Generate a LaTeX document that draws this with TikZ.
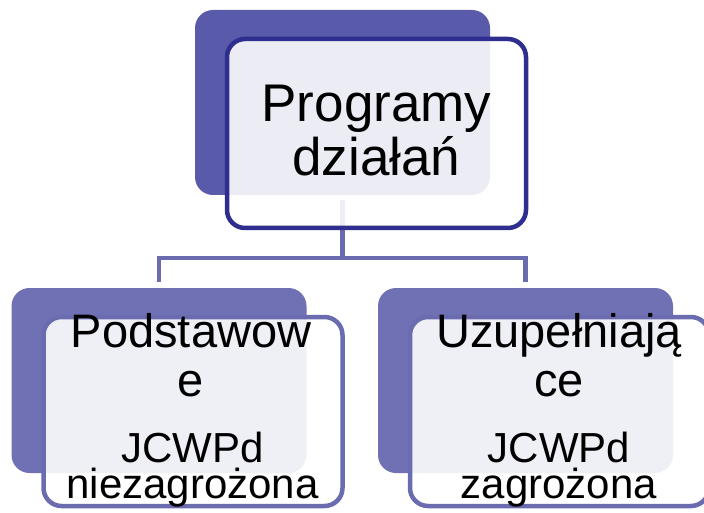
\documentclass[tikz,border=0pt]{standalone}
\usepackage{fontspec}
\setmainfont{Liberation Sans}
\usepackage{tikz}
\usepackage{xcolor}
\usetikzlibrary{positioning}

\definecolor{mainfill}{HTML}{5A5AAB}
\definecolor{mainline}{HTML}{2E2E8E}
\definecolor{subfill}{HTML}{7070B4}
\definecolor{subline}{HTML}{6B6BAF}

\begin{document}
\begin{tikzpicture}[
            x=1pt, y=-1pt,
            backbox/.style={rectangle, rounded corners=18pt, inner sep=0pt,
                minimum width=295pt, minimum height=185pt},
            frontbox/.style={rectangle, rounded corners=18pt, inner sep=0pt,
                line width=4.5pt, fill=white, fill opacity=0.89, draw opacity=1,
                minimum width=299pt, minimum height=189pt,
                xshift=34pt, yshift=-31pt},
            link/.style={draw=subline, line width=4.5pt},
            bigtext/.style={align=center, font=\fontsize{53}{54}\selectfont},
            subtext/.style={align=center, font=\fontsize{47}{49}\selectfont},
            smalltext/.style={align=center, font=\fontsize{42}{36}\selectfont},
        ]
            \clip (0,0) rectangle (704,513);

            % shadow boxes behind
            \node[backbox, fill=mainfill] (mainback) at (342.5,102.5) {};
            \node[backbox, fill=subfill] (leftback) at (159,380.5) {};
            \node[backbox, fill=subfill] (rightback) at (525.5,380.5) {};

            % elbow connectors
            \coordinate (fork) at (342.5,258);
            \draw[link, shorten <=5pt, shorten >=6pt] (mainback.south) -- (fork) -| (leftback.north);
            \draw[link, shorten <=5pt, shorten >=6pt] (mainback.south) -- (fork) -| (rightback.north);

            % framed boxes on top
            \node[frontbox, draw=mainline] (main) at (mainback) {};
            \node[frontbox, draw=subline] (left) at (leftback) {};
            \node[frontbox, draw=subline] (right) at (rightback) {};

            \node[bigtext] (maintext) at (376.5,130.7) {Programy\\działań};
            \node[subtext] (lefttop) at (191,355.5) {Podstawow\\e};
            \node[smalltext] (leftbottom) at (192.5,469.4) {JCWPd\\niezagrożona};
            \node[subtext] (righttop) at (559,355.5) {Uzupełniają\\ce};
            \node[smalltext] (rightbottom) at (559,469.4) {JCWPd\\zagrożona};
        \end{tikzpicture}
\end{document}
